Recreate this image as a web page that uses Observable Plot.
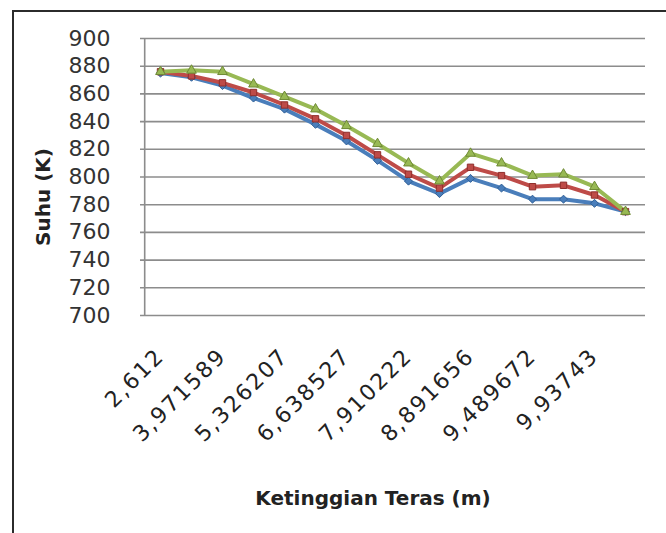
<!DOCTYPE html>
<html><head><meta charset="utf-8">
<script src="https://cdn.jsdelivr.net/npm/d3@7"></script>
<script src="https://cdn.jsdelivr.net/npm/@observablehq/plot@0.6"></script>
<style>
html,body{margin:0;padding:0;background:#fff;overflow:hidden}
#wrap{position:relative;width:666px;height:533px}
#frame{position:absolute;left:12px;top:10px;width:700px;height:600px;border:2px solid #2b2b2b;box-sizing:border-box}
#chart{position:absolute;left:0;top:0}
</style></head><body><div id="wrap"><div id="frame"></div><div id="chart"></div></div>
<script>
// category positions (16 measurement heights); only every other one is labelled
const pointIndex = [0,1,2,3,4,5,6,7,8,9,10,11,12,13,14,15];
const labelIndex = [0,2,4,6,8,10,12,14];
const tickLabels = ["2,612","3,971589","5,326207","6,638527","7,910222","8,891656","9,489672","9,93743"];
const yTicks = [700,720,740,760,780,800,820,840,860,880,900];

const seriesBlue  = [875,872,866,857,849,838,826,812,797,788,799,792,784,784,781,775];
const seriesRed   = [876,873,868,861,852,842,830,816,802,792,807,801,793,794,787,775];
const seriesGreen = [876,877,876,867,858,849,837,824,810,797,817,810,801,802,793,775];

const seriesList = [
  {name:"s1", values: seriesBlue,  color:"#4a7ebb", edge:"#2f5f96", symbol:"diamond2"},
  {name:"s2", values: seriesRed,   color:"#be4b48", edge:"#8f2f2c", symbol:"square"},
  {name:"s3", values: seriesGreen, color:"#98b954", edge:"#6f8a35", symbol:"triangle"}
];
const rows = seriesList.flatMap(s => s.values.map((v,i) => ({i: pointIndex[i], v, s: s.name})));

const font = "DejaVu Sans";
const marks = [
  Plot.ruleY(yTicks, {stroke:"#8c8c8c", strokeWidth:1.6}),
  Plot.ruleX([0], {dx:-15.8, y1:700, y2:900, stroke:"#8c8c8c", strokeWidth:1.6}),
  Plot.axisY({ticks: yTicks, tickSize:0, tickPadding:30, fontSize:22, fontFamily:font, fill:"#333"}),
  Plot.axisX({ticks: labelIndex, tickFormat: i => tickLabels[labelIndex.indexOf(i)], tickRotate:-45, tickSize:0, tickPadding:37, fontSize:22, fontFamily:font, fill:"#222"}),
];
for (const s of seriesList) {
  const data = rows.filter(r => r.s === s.name);
  marks.push(Plot.line(data, {x:"i", y:"v", stroke:s.color, strokeWidth:4, strokeLinejoin:"round"}));
}
for (const s of seriesList) {
  const data = rows.filter(r => r.s === s.name);
  marks.push(Plot.dot(data, {x:"i", y:"v", symbol:s.symbol, r:3.6, fill:s.color, stroke:s.edge, strokeWidth:1}));
}
marks.push(Plot.text(["Suhu (K)"], {frameAnchor:"left", textAnchor:"middle", rotate:-90, dx:-97, dy:20, fontSize:20, fontWeight:"bold", fontFamily:font, fill:"#222"}));
marks.push(Plot.text(["Ketinggian Teras (m)"], {frameAnchor:"bottom", dx:-20, dy:189, fontSize:20, fontWeight:"bold", fontFamily:font, fill:"#222"}));

const chart = Plot.plot({
  width:666, height:533,
  marginLeft:140, marginRight:21, marginTop:38, marginBottom:218,
  style:{background:"transparent", fontFamily:font, overflow:"visible"},
  x:{type:"point", domain:pointIndex, padding:0.5, label:null},
  y:{domain:[700,900], label:null},
  marks
});
chart.querySelectorAll('g[aria-label="x-axis tick label"] text').forEach(t => t.style.letterSpacing = "2px");
document.getElementById("chart").appendChild(chart);
</script></body></html>
